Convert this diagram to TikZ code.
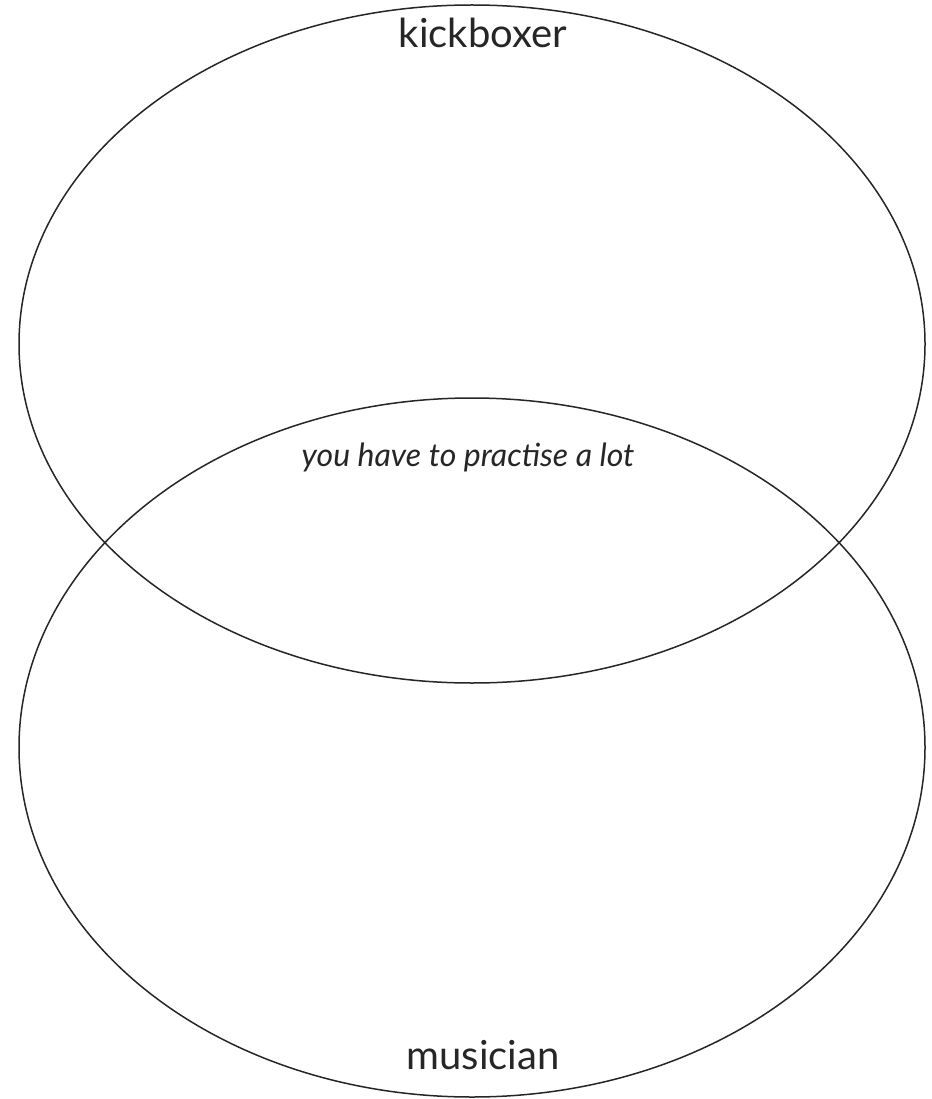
\documentclass[tikz,border=0pt]{standalone}
\usepackage{fontspec}
\setmainfont{Lato}
\usetikzlibrary{shapes.geometric}
\begin{document}
\begin{tikzpicture}[x=1pt,y=-1pt,
  set/.style={draw=black!85,line width=1.5pt,ellipse,inner sep=0pt},
  lbl/.style={font=\fontsize{40}{44}\selectfont,text=black!85,anchor=base},
  note/.style={font=\fontsize{32}{36}\selectfont\itshape,text=black!85,anchor=base}]
\useasboundingbox (0,0) rectangle (931,1099);
\node[set,minimum width=906pt,minimum height=678pt] (kick) at (472,344) {};
\node[set,minimum width=906pt,minimum height=699pt] (mus) at (472,747.5) {};
\node[lbl] (kl) at (483,48) {kickboxer};
\node[lbl] (ml) at (483,1069) {musician};
\node[note] (nl) at (468,466) {you have to practise a lot};
\end{tikzpicture}
\end{document}
